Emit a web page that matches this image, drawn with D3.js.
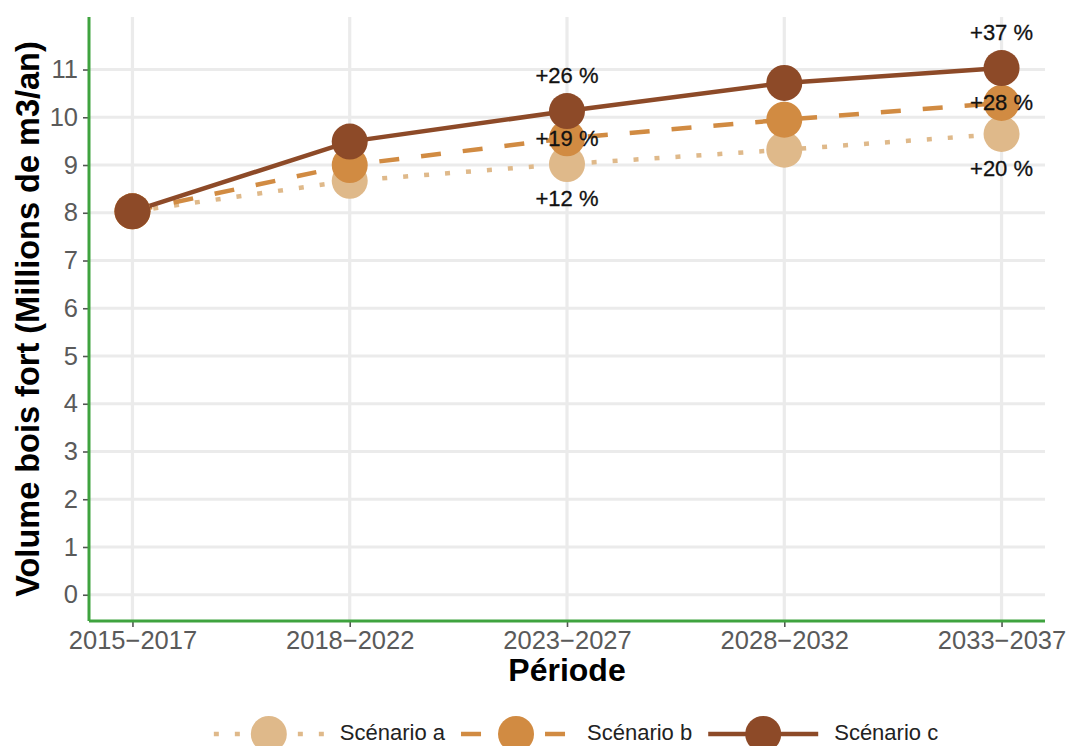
<!DOCTYPE html>
<html>
<head>
<meta charset="utf-8">
<script src="https://cdn.jsdelivr.net/npm/d3@7"></script>
<style>
  html, body { margin: 0; padding: 0; background: #fff; }
  svg { display: block; font-family: "Liberation Sans", Arial, sans-serif; }
</style>
</head>
<body>
<svg id="chart" width="1071" height="746"></svg>
<script>
// data
var periods = ["2015\u22122017", "2018\u22122022", "2023\u22122027", "2028\u22122032", "2033\u22122037"];
var yTicks = [0, 1, 2, 3, 4, 5, 6, 7, 8, 9, 10, 11];
var scenarioNames = ["Scénario a", "Scénario b", "Scénario c"];
var scenarioA = [8.03, 8.67, 9.02, 9.32, 9.65];
var scenarioB = [8.03, 9.00, 9.56, 9.95, 10.30];
var scenarioC = [8.03, 9.49, 10.13, 10.72, 11.03];
var labelPeriods = ["2023\u22122027", "2033\u22122037"];
var labelsA = ["+12 %", "+20 %"];
var labelsB = ["+19 %", "+28 %"];
var labelsC = ["+26 %", "+37 %"];

var colors = ["#DFB98A", "#D18B42", "#8D4A28"];
var dashes = ["5,16", "20,22", null];
var nudges = [-0.72, 0, 0.74];

var series = [scenarioA, scenarioB, scenarioC].map(function (vals, i) {
    return {
        name: scenarioNames[i],
        color: colors[i],
        dash: dashes[i],
        nudge: nudges[i],
        points: vals.map(function (v, j) { return {x: periods[j], y: v}; }),
        labels: [labelsA, labelsB, labelsC][i].map(function (t, k) {
            var p = labelPeriods[k];
            return {x: p, y: vals[periods.indexOf(p)], text: t};
        })
    };
});

var svg = d3.select("#chart"),
    margin = {top: 17, right: 26, bottom: 125, left: 89},
    width = +svg.attr("width") - margin.left - margin.right,
    height = +svg.attr("height") - margin.top - margin.bottom;

var x = d3.scalePoint().domain(periods).range([0, width]).padding(0.2),
    y = d3.scaleLinear().domain([-0.55, 12.1]).range([height, 0]);

var g = svg.append("g")
    .attr("transform", "translate(" + margin.left + "," + margin.top + ")");

// grid
g.selectAll(".hgrid")
    .data(yTicks)
    .enter().append("line")
    .attr("x1", 0).attr("x2", width)
    .attr("y1", function (d) { return y(d); })
    .attr("y2", function (d) { return y(d); })
    .attr("stroke", "#EBEBEB").attr("stroke-width", 3.2);

g.selectAll(".vgrid")
    .data(periods)
    .enter().append("line")
    .attr("x1", function (d) { return x(d); })
    .attr("x2", function (d) { return x(d); })
    .attr("y1", 0).attr("y2", height)
    .attr("stroke", "#EBEBEB").attr("stroke-width", 3.2);

// axes
var xAxis = g.append("g")
    .attr("transform", "translate(0," + height + ")")
    .call(d3.axisBottom(x).tickSize(6).tickPadding(4));
var yAxis = g.append("g")
    .call(d3.axisLeft(y).tickValues(yTicks).tickSize(6).tickPadding(5));

[xAxis, yAxis].forEach(function (ax) {
    ax.select(".domain").remove();
    ax.selectAll(".tick line").attr("stroke", "#555").attr("stroke-width", 1.6);
    ax.selectAll(".tick text")
        .attr("fill", "#5a5a5a")
        .style("font-size", "25.5px")
        .style("font-family", "'Liberation Sans', Arial, sans-serif");
});

// green axis lines
g.append("line").attr("x1", 0).attr("x2", 0).attr("y1", 0).attr("y2", height)
    .attr("stroke", "#3FA33F").attr("stroke-width", 3);
g.append("line").attr("x1", 0).attr("x2", width).attr("y1", height).attr("y2", height)
    .attr("stroke", "#3FA33F").attr("stroke-width", 3);

// lines
var line = d3.line()
    .x(function (d) { return x(d.x); })
    .y(function (d) { return y(d.y); });

g.selectAll(".series-line")
    .data(series)
    .enter().append("path")
    .attr("d", function (d) { return line(d.points); })
    .attr("fill", "none")
    .attr("stroke", function (d) { return d.color; })
    .attr("stroke-width", 4.5)
    .attr("stroke-dasharray", function (d) { return d.dash; });

// points
series.forEach(function (s) {
    g.selectAll(null)
        .data(s.points)
        .enter().append("circle")
        .attr("cx", function (d) { return x(d.x); })
        .attr("cy", function (d) { return y(d.y); })
        .attr("r", 18)
        .attr("fill", s.color);
});

// percentage labels
series.forEach(function (s) {
    g.selectAll(null)
        .data(s.labels)
        .enter().append("text")
        .attr("x", function (d) { return x(d.x); })
        .attr("y", function (d) { return y(d.y + s.nudge); })
        .attr("text-anchor", "middle")
        .attr("dominant-baseline", "central")
        .attr("fill", "#111")
        .attr("stroke", "#111").attr("stroke-width", 0.3)
        .style("font-size", "22px")
        .text(function (d) { return d.text; });
});

// axis titles
svg.append("text")
    .attr("x", margin.left + width / 2)
    .attr("y", 681)
    .attr("text-anchor", "middle")
    .style("font-size", "32px").style("font-weight", "bold")
    .text("Période");

svg.append("text")
    .attr("transform", "translate(39," + (margin.top + height / 2) + ") rotate(-90)")
    .attr("text-anchor", "middle")
    .style("font-size", "32.5px").style("font-weight", "bold")
    .text("Volume bois fort (Millions de m3/an)");

// legend
var legend = svg.append("g");
var keyW = 110, gap = 16, cx = 576, cy = 734;
var items = series.map(function (s) {
    var t = legend.append("text")
        .attr("y", 740)
        .attr("fill", "#222")
        .style("font-size", "22px")
        .text(s.name);
    return {s: s, t: t, w: t.node().getComputedTextLength()};
});
var total = d3.sum(items, function (d) { return keyW + gap + d.w; }) + gap * (items.length - 1);
var pos = cx - total / 2;
items.forEach(function (it) {
    legend.append("line")
        .attr("x1", pos).attr("x2", pos + keyW)
        .attr("y1", cy).attr("y2", cy)
        .attr("stroke", it.s.color).attr("stroke-width", 4.5)
        .attr("stroke-dasharray", it.s.dash);
    legend.append("circle")
        .attr("cx", pos + keyW / 2).attr("cy", cy)
        .attr("r", 18).attr("fill", it.s.color);
    it.t.attr("x", pos + keyW + gap).raise();
    pos += keyW + gap + it.w + gap;
});
</script>
</body>
</html>
